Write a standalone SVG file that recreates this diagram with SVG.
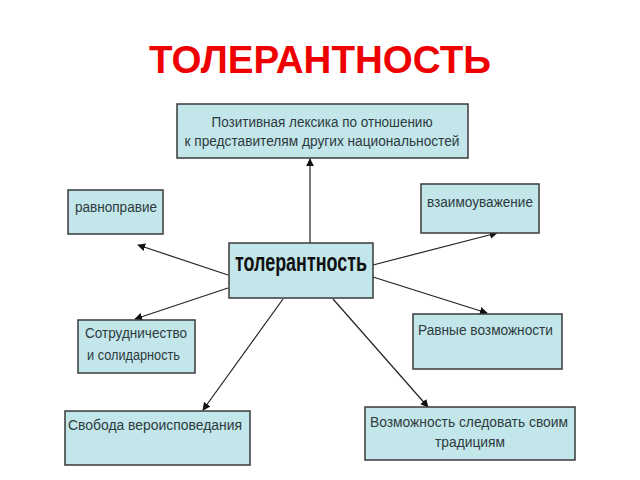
<svg xmlns="http://www.w3.org/2000/svg" width="640" height="480" viewBox="0 0 640 480">
<defs>
<marker id="ah" viewBox="0 0 10 10" refX="9" refY="5" markerWidth="8" markerHeight="8" markerUnits="userSpaceOnUse" orient="auto">
<path d="M0,0 L10,5 L0,10 Z" fill="#111"/>
</marker>
<style>
.box{fill:#c2e6e9;stroke:#3a3a3a;stroke-width:1.5}
.t{font-family:"Liberation Sans",Arial,sans-serif;font-size:15.5px;fill:#2e3a3e}
.c{stroke:#222;stroke-width:1.2;fill:none;marker-end:url(#ah)}
</style>
</defs>
<rect width="640" height="480" fill="#fff"/>
<text x="320" y="73" text-anchor="middle" font-family="'Liberation Sans',Arial,sans-serif" font-weight="bold" font-size="38" fill="#ee0000" textLength="342" lengthAdjust="spacingAndGlyphs">ТОЛЕРАНТНОСТЬ</text>
<g id="connectors">
<line class="c" x1="310" y1="243" x2="310" y2="159"/>
<line class="c" x1="228" y1="275" x2="138" y2="245"/>
<line class="c" x1="228" y1="288" x2="135" y2="319"/>
<line class="c" x1="373" y1="265" x2="497" y2="233"/>
<line class="c" x1="373" y1="277" x2="487" y2="313"/>
<line class="c" x1="283" y1="299" x2="203" y2="410"/>
<line class="c" x1="333" y1="299" x2="428" y2="407"/>
</g>
<g id="top">
<rect class="box" x="177" y="104" width="291" height="54"/>
<text class="t" x="322" y="127" text-anchor="middle" textLength="221" lengthAdjust="spacingAndGlyphs">Позитивная лексика по отношению</text>
<text class="t" x="322" y="146" text-anchor="middle" textLength="275" lengthAdjust="spacingAndGlyphs">к представителям других национальностей</text>
</g>
<g id="ravnopravie">
<rect class="box" x="68" y="190" width="95" height="44"/>
<text class="t" x="75" y="212" textLength="82" lengthAdjust="spacingAndGlyphs">равноправие</text>
</g>
<g id="vzaimouvazhenie">
<rect class="box" x="421" y="184" width="118" height="49"/>
<text class="t" x="427" y="207" textLength="106" lengthAdjust="spacingAndGlyphs">взаимоуважение</text>
</g>
<g id="center">
<rect class="box" x="229" y="243" width="144" height="55"/>
<text x="235" y="271" font-family="'Liberation Sans',Arial,sans-serif" font-weight="bold" font-size="25" fill="#111" textLength="132" lengthAdjust="spacingAndGlyphs">толерантность</text>
</g>
<g id="sotrudnichestvo">
<rect class="box" x="78" y="320" width="117" height="53"/>
<text class="t" x="85" y="338" textLength="102" lengthAdjust="spacingAndGlyphs">Сотрудничество</text>
<text class="t" x="87" y="360" textLength="93" lengthAdjust="spacingAndGlyphs">и солидарность</text>
</g>
<g id="ravnye">
<rect class="box" x="413" y="314" width="149" height="55"/>
<text class="t" x="418" y="335" textLength="135" lengthAdjust="spacingAndGlyphs">Равные возможности</text>
</g>
<g id="svoboda">
<rect class="box" x="65" y="411" width="185" height="54"/>
<text class="t" x="68" y="430" textLength="174" lengthAdjust="spacingAndGlyphs">Свобода вероисповедания</text>
</g>
<g id="vozmozhnost">
<rect class="box" x="365" y="407" width="210" height="53"/>
<text class="t" x="370" y="427" textLength="198" lengthAdjust="spacingAndGlyphs">Возможность следовать своим</text>
<text class="t" x="470" y="447" text-anchor="middle" textLength="70" lengthAdjust="spacingAndGlyphs">традициям</text>
</g>
</svg>
